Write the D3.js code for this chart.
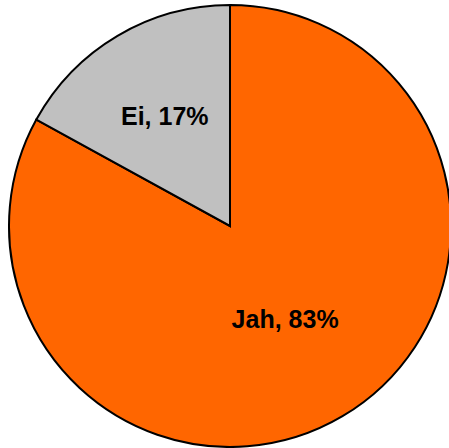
<!DOCTYPE html>
<html>
<head>
<meta charset="utf-8">
<script src="https://cdn.jsdelivr.net/npm/d3@7"></script>
<style>
html,body{margin:0;padding:0;background:#fff;}
svg{display:block;}
</style>
</head>
<body>
<svg id="chart" width="449" height="448"></svg>
<script>
const categories = ["Jah", "Ei"];
const values = [83, 17];
const colors = ["#FF6600", "#C0C0C0"];
const labelFractions = [0.49, 0.58];

const svg = d3.select("#chart");
const cx = 230, cy = 226, r = 221;
const g = svg.append("g").attr("transform", `translate(${cx},${cy})`);

const data = categories.map((c, i) => ({ name: c, value: values[i], color: colors[i], lf: labelFractions[i] }));
const pie = d3.pie().sort(null).value(d => d.value);
const arcs = pie(data);
const arc = d3.arc().innerRadius(0).outerRadius(r);

g.selectAll("path.slice").data(arcs).join("path")
  .attr("class", "slice")
  .attr("d", arc)
  .attr("fill", d => d.data.color)
  .attr("stroke", "#000")
  .attr("stroke-width", 2)
  .attr("stroke-linejoin", "miter");

const total = d3.sum(values);
g.selectAll("text.lbl").data(arcs).join("text")
  .attr("class", "lbl")
  .attr("transform", d => {
    const la = d3.arc().innerRadius(0).outerRadius(2 * d.data.lf * r);
    const [x, y] = la.centroid(d);
    return `translate(${x},${y})`;
  })
  .attr("text-anchor", "middle")
  .attr("dy", "0.36em")
  .attr("font-family", "Liberation Sans, Arial, Helvetica, sans-serif")
  .attr("font-weight", "bold")
  .attr("font-size", 25)
  .attr("fill", "#000")
  .text(d => `${d.data.name}, ${Math.round(d.data.value / total * 100)}%`);
</script>
</body>
</html>
